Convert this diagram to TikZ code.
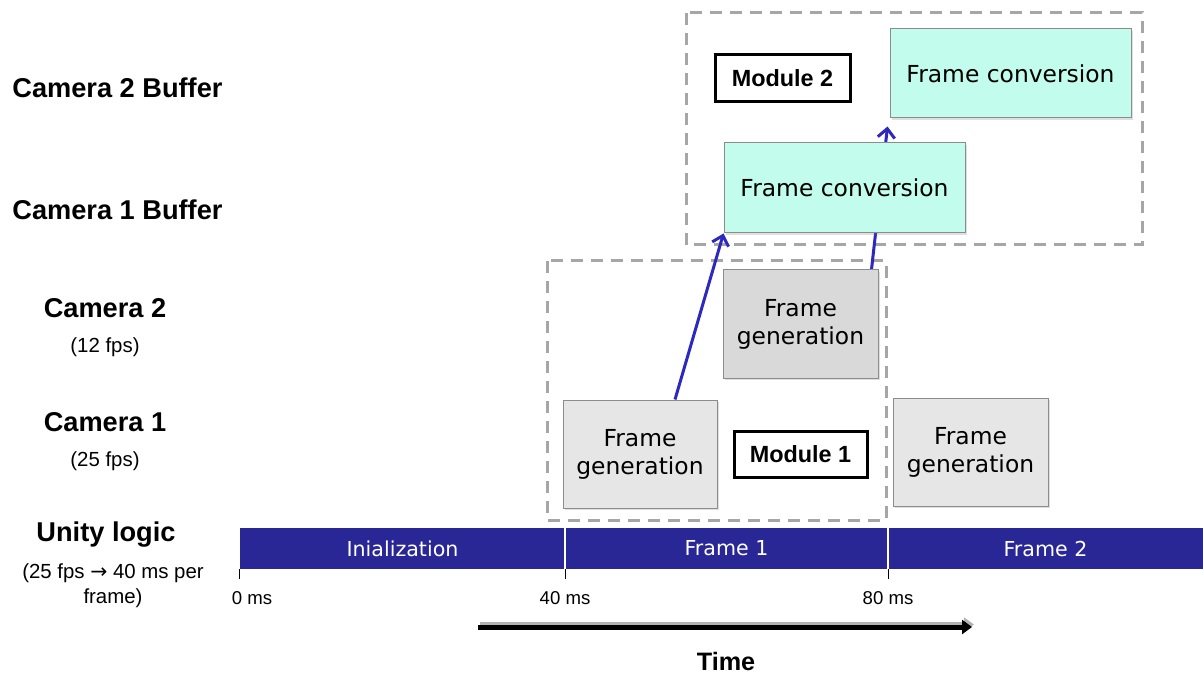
\documentclass[tikz,border=0pt]{standalone}
\usepackage{fontspec}
\setmainfont{Liberation Sans}
\newfontfamily\verd{DejaVu Sans}
\usetikzlibrary{arrows.meta,backgrounds,shadows}

\definecolor{barblue}{RGB}{41,38,150}
\definecolor{flowblue}{RGB}{45,40,190}
\definecolor{convfill}{RGB}{194,252,236}
\definecolor{genfill}{RGB}{230,230,230}
\definecolor{genfilldark}{RGB}{217,217,217}
\definecolor{boxgray}{RGB}{140,140,140}
\definecolor{dashgray}{RGB}{166,166,166}

\tikzset{
  lane/.style={font=\bfseries\fontsize{13.6}{16}\selectfont},
  rate/.style={font=\fontsize{10.2}{12.5}\selectfont, align=center},
  task/.style={draw=boxgray, line width=0.5pt, inner sep=0pt, align=center,
    minimum width=77pt, minimum height=54pt,
    font=\verd\fontsize{11.7}{14}\selectfont,
    drop shadow={shadow xshift=0.8pt, shadow yshift=-0.8pt, opacity=0.25}},
  gen/.style={task, fill=genfill},
  conv/.style={task, fill=convfill, minimum width=120.5pt, minimum height=45pt},
  module/.style={draw, line width=1.5pt, inner sep=0pt,
    minimum width=66pt, minimum height=23pt,
    font=\bfseries\fontsize{11.7}{14}\selectfont},
  group/.style={draw=dashgray, line width=1.5pt, dash pattern=on 6pt off 4pt},
  phase/.style={fill=barblue, text=white, inner sep=0pt, minimum height=20.5pt,
    font=\verd\fontsize{10.3}{12}\selectfont},
  flow/.style={draw=flowblue, line width=1.5pt, -{Straight Barb[length=4.5pt,width=8.5pt]}},
  msmark/.style={font=\fontsize{9.3}{11}\selectfont},
}

\begin{document}
\begin{tikzpicture}[x=0.5pt,y=-0.5pt]
  \useasboundingbox (0,0) rectangle (1203,673);

  % row labels
  \node[lane,anchor=west,inner sep=0pt] (buf2) at (12,88) {Camera 2 Buffer};
  \node[lane,anchor=west,inner sep=0pt] (buf1) at (12,210) {Camera 1 Buffer};
  \node[lane] (cam2) at (105,308) {Camera 2};
  \node[rate] (cam2fps) at (105,347) {(12 fps)};
  \node[lane] (cam1) at (105,422) {Camera 1};
  \node[rate] (cam1fps) at (105,461) {(25 fps)};
  \node[lane] (unity) at (106,535) {Unity logic};
  \node[rate] (unityfps) at (113,586) {(25 fps {\verd →} 40 ms per\\frame)};

  % unity frames
  \node[phase,minimum width=162.5pt] (init) at (402.5,548.5) {Inialization};
  \node[phase,minimum width=161.5pt] (frame1) at (726.5,548.5) {Frame 1};
  \node[phase,minimum width=157.5pt] (frame2) at (1045.5,548.5) {Frame 2};
  \draw[white,line width=1pt] (init.north east) -- (init.south east);
  \draw[white,line width=1pt] (frame1.north east) -- (frame1.south east);

  \draw[line width=0.5pt] (init.south west) -- ++(0,10) coordinate (t0);
  \draw[line width=0.5pt] (init.south east) -- ++(0,10) coordinate (t40);
  \draw[line width=0.5pt] (frame1.south east) -- ++(0,10) coordinate (t80);
  \node[msmark] (ms0) at (252,598) {0 ms};
  \node[msmark] (ms40) at (565,598) {40 ms};
  \node[msmark] (ms80) at (888,598) {80 ms};

  % time axis
  \coordinate (ta) at (478,627);
  \coordinate (tb) at (972,627);
  \draw[gray!60,line width=2.5pt,-{Triangle[length=5pt,width=7pt]}]
    ([shift={(1pt,1.2pt)}]ta) -- ([shift={(1pt,1.2pt)}]tb);
  \draw[black,line width=2.5pt,-{Triangle[length=5pt,width=7pt]}] (ta) -- (tb);
  \node[font=\bfseries\fontsize{12.6}{15}\selectfont] (time) at (726,661) {Time};

  % tasks
  \node[gen] (gen1) at (640,454) {Frame\\generation};
  \node[gen,fill=genfilldark,minimum width=77.5pt] (gen2) at (800.5,324) {Frame\\generation};
  \node[gen,minimum width=77.5pt] (gen3) at (970.5,452) {Frame\\generation};
  \node[conv] (conv1) at (844.5,188) {Frame conversion};
  \node[conv,minimum height=44.5pt] (conv2) at (1010.5,73.5) {Frame conversion};

  \node[module,minimum width=66.5pt] (mod1) at (800.5,454) {Module 1};
  \node[module,minimum width=67.5pt,minimum height=23.5pt] (mod2) at (782.5,78.5) {Module 2};

  \begin{scope}[on background layer]
    \draw[group] (547,261) rectangle (886,520);
    \draw[group] (686,13) rectangle (1142,245);
    \draw[flow] ([xshift=17.5pt]gen1.north) -- (conv1.south west);
    \draw[flow] ([xshift=-3.5pt]gen2.north east) -- ([shift={(-1pt,-4pt)}]conv2.south west);
  \end{scope}
\end{tikzpicture}
\end{document}
